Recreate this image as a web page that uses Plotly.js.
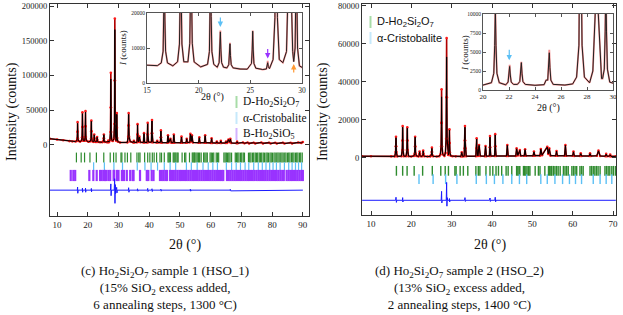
<!DOCTYPE html>
<html><head><meta charset="utf-8">
<script src="https://cdn.plot.ly/plotly-3.0.1.min.js"></script>
<style>html,body{margin:0;padding:0;background:#fff}#plot{width:623px;height:315px}</style>
</head><body><div id="plot"></div>
<script>
// ---------- Sample 1 (HSO_1) ----------
const obsX1 = [7.7,10,12,14,15,16.0,16.38,16.56,16.63,16.68,16.73,16.80,16.98,17.5,17.96,18.14,18.21,18.26,18.31,18.38,18.56,18.96,19.14,19.21,19.26,19.31,19.38,19.56,20.2,20.86,21.04,21.11,21.16,21.21,21.28,21.46,21.80,21.98,22.05,22.10,22.15,22.22,22.40,22.73,22.91,22.98,23.03,23.08,23.15,23.33,24.0,24.7,24.93,25.11,25.18,25.23,25.28,25.35,25.53,26.2,26.55,26.62,26.68,26.74,26.85,27.2,27.38,27.45,27.5,27.55,27.62,27.8,28.15,28.5,28.68,28.75,28.8,28.85,28.92,29.1,29.2,29.33,29.4,29.45,29.5,29.57,29.75,30.5,32.9,33.15,33.25,33.3,33.35,33.45,33.8,34.8,35.0,35.2,36.0,36.15,36.2,36.25,36.5,36.8,37.1,38.1,38.3,38.5,39.3,39.45,39.5,39.55,39.8,40.7,40.85,40.9,40.95,41.2,42.4,42.6,42.8,43.6,43.75,43.8,43.85,44.1,45.9,46.1,46.3,46.9,47.2,47.8,48.0,48.2,50.3,50.5,50.7,52.0,52.2,52.4,53.2,53.4,53.65,53.9,54.2,56.1,56.3,56.5,58.0,58.2,58.4,60.1,60.3,60.5,61.8,62.0,62.2,63.1,63.3,63.5,64.8,65.0,65.3,65.8,66.1,66.4,66.7,68.4,68.6,68.8,70.5,71,72,72.5,74,74.5,76.5,77,79,79.5,81,81.5,83.5,84,86,86.5,88.5,89.5,90];
const obsY1 = [9000,8000,6800,5600,5100,4950,5740,9100,18950,33000,18950,9100,5740,4900,6070,11130,25900,47000,25900,11130,6070,6030,11350,26850,49000,26850,11350,6030,4600,5320,8990,19700,35000,19700,8990,5320,4520,5820,9600,15000,9600,5820,4520,4320,5210,7800,11500,7800,5210,4320,4000,3950,5000,5570,9450,15000,9450,5570,4230,3850,4000,4700,6300,4700,4100,6700,18700,53800,104000,53800,18700,6700,5800,9000,30300,92800,182000,92800,30300,9000,6100,10000,24800,46000,24800,10000,4900,3600,3800,12000,28000,46000,28000,12000,5000,3600,6000,3600,3800,15000,30000,15000,4500,12000,4000,3600,17000,3500,3600,15000,32000,15000,4000,4000,17000,36000,17000,3800,3500,6000,3500,3500,11000,21000,11000,3400,3300,14000,3500,9000,3300,3300,15000,3400,3200,12000,3200,3300,9000,3500,3800,16000,5000,14000,3600,3200,11000,3200,3300,14000,3300,3000,9600,3000,2800,5000,2800,2800,6200,2800,2800,5000,2900,8000,4000,9000,2800,2600,4800,2600,3500,2400,3500,2300,3300,2300,3500,2300,3300,2200,3200,2200,3300,2200,3200,2300,3500,3000,4300];
const calcY1 = [9000,8000,6800,5600,5100,4950,5740,9100,18000,31000,18000,9100,5740,4900,6070,11130,24800,45000,24800,11130,6070,6030,11350,25800,47000,25800,11350,6030,4600,5320,8990,19000,34000,19000,8990,5320,4520,5820,9600,14600,9600,5820,4520,4320,5210,7800,11200,7800,5210,4320,4000,3950,5000,5570,9450,14800,9450,5570,4230,3850,4000,4700,5800,4700,4100,6700,18700,50000,95000,50000,18700,6700,5800,9000,30300,85000,166000,85000,30300,9000,6100,10000,24800,44000,24800,10000,4900,3600,3800,12000,27000,44000,27000,12000,5000,3600,6000,3600,3800,15000,29000,15000,4500,11500,4000,3600,16500,3500,3600,15000,30500,15000,4000,4000,17000,34500,17000,3800,3500,6000,3500,3500,11000,20000,11000,3400,3300,13500,3500,9000,3300,3300,14500,3400,3200,11500,3200,3300,9000,3500,3800,15500,5000,13500,3600,3200,10500,3200,3300,13500,3300,3000,9300,3000,2800,5000,2800,2800,6000,2800,2800,5000,2900,7800,4000,8700,2800,2600,4800,2600,3500,2400,3500,2300,3300,2300,3500,2300,3300,2200,3200,2200,3300,2200,3200,2300,3500,3000,4300];
const diffX1 = [7.7,16.6,16.68,16.75,16.85,18.2,18.26,18.32,18.4,19.2,19.26,19.32,19.4,21.1,21.16,21.22,21.3,27.4,27.5,27.58,27.7,28.6,28.75,28.85,28.95,29.05,29.2,29.4,29.5,29.6,33.2,33.3,33.4,33.5,36.1,36.2,36.3,36.4,39.4,39.5,39.6,39.7,40.8,40.9,41.0,41.1,43.7,43.8,43.9,44.0,53.3,53.4,53.5,53.6,66.3,66.4,66.5,90];
const diffY1 = [-65000,-65000,-60500,-69500,-65000,-65000,-62000,-68000,-65000,-65000,-62000,-68000,-65000,-65000,-62500,-67500,-65000,-65000,-56000,-73000,-65000,-65000,-48500,-84000,-57000,-70000,-65000,-61000,-69000,-65000,-65000,-61500,-68000,-65000,-65000,-63000,-66500,-65000,-65000,-62500,-67000,-65000,-65000,-63000,-67000,-65000,-65000,-63500,-66500,-65000,-65000,-63500,-66500,-65000,-65000,-63800,-66000,-65000];

// ---------- Sample 2 (HSO_2) ----------
const obsX2 = [7.8,10,15,15.9,16.1,16.15,16.2,16.25,16.3,16.5,17.55,17.75,17.8,17.85,17.9,17.95,18.15,18.7,18.9,18.95,19.0,19.05,19.1,19.3,20.0,20.65,20.83,20.9,20.95,21.0,21.07,21.25,21.75,21.93,22.0,22.05,22.1,22.17,22.35,22.65,22.83,22.9,22.95,23.0,23.07,23.25,24.0,24.7,24.85,24.98,25.05,25.1,25.15,25.22,25.4,26.3,26.9,27.2,27.38,27.45,27.5,27.55,27.62,27.8,28.2,28.45,28.63,28.7,28.75,28.8,28.87,29.05,29.12,29.2,29.33,29.4,29.45,29.5,29.57,29.75,30.2,31.0,32.3,32.5,32.7,33.1,33.2,33.25,33.3,33.35,33.4,33.6,36.0,36.15,36.2,36.25,36.5,36.8,37.1,38.2,38.4,38.6,39.35,39.45,39.5,39.55,39.7,40.65,40.75,40.8,40.85,41.0,43.6,43.8,44.0,45.9,46.1,46.4,46.9,47.1,48.0,48.2,48.4,50.2,50.4,50.6,51.9,52.1,52.4,53.7,53.95,54.2,54.5,55.8,56.0,56.2,58.0,58.2,58.4,60.0,60.2,60.4,61.8,62.0,62.2,64.1,64.3,64.5,66.0,66.4,66.8,68.1,68.3,68.5,69.1,69.3,69.5,70.7];
const obsY2 = [800,750,700,700,3000,6000,11000,6000,3000,700,800,4000,9000,16700,9000,4000,800,800,4000,9000,16000,9000,4000,800,650,960,2200,5850,11000,5850,2200,960,680,1050,1975,3300,1975,1050,730,740,1110,2180,3700,2180,1110,740,620,700,1300,1300,2950,5300,2950,1300,740,650,800,1700,5900,18300,36000,18300,5900,1700,950,2500,10000,31800,63000,31800,10000,2500,1500,1500,2750,7750,14900,7750,2750,1030,800,700,700,2800,700,800,5000,9000,16700,9000,5000,800,800,5000,10200,5000,900,6700,900,800,6100,800,900,5500,11400,5500,900,900,6000,12400,6000,900,900,6700,900,900,4900,1200,4000,1000,1000,4400,1000,1000,3200,1100,1100,4600,1300,5800,2000,4900,1100,1000,3500,1000,1000,6700,1000,1000,3200,900,900,2300,900,900,2300,900,1000,3700,900,800,2000,800,800,1600,700,700];
const calcY2 = [800,750,700,700,3000,5800,10500,5800,3000,700,800,4000,8800,16000,8800,4000,800,800,4000,8800,15500,8800,4000,800,650,960,2200,5850,10800,5850,2200,960,680,1050,1975,3100,1975,1050,730,740,1110,2180,3600,2180,1110,740,620,700,1300,1300,2950,4900,2950,1300,740,650,800,1700,5900,16500,32000,16500,5900,1700,950,2500,10000,27000,53000,27000,10000,2500,1500,1500,2750,7750,14500,7750,2750,1030,800,700,700,2800,700,800,5000,8800,16000,8800,5000,800,800,5000,9800,5000,900,6500,900,800,5900,800,900,5300,10800,5300,900,900,5800,12000,5800,900,900,6500,900,900,4700,1200,3900,1000,1000,4300,1000,1000,3100,1100,1100,4500,1300,5600,2000,4800,1100,1000,3400,1000,1000,6500,1000,1000,3100,900,900,2200,900,900,2200,900,1000,3600,900,800,1900,800,800,1500,700,700];
const diffX2 = [7.8,16.1,16.2,16.3,16.4,17.8,17.85,17.9,18.0,27.4,27.5,27.56,27.65,28.65,28.75,28.82,28.9,29.0,29.4,29.45,29.5,29.6,33.2,33.3,33.4,33.5,39.4,39.5,39.6,39.7,40.7,40.8,40.9,41.0,70.7];
const diffY2 = [-22400,-22400,-20800,-23500,-22400,-22400,-21000,-23300,-22400,-22400,-17700,-23800,-22400,-22400,-13000,-25500,-21000,-22400,-22400,-21500,-23300,-22400,-22400,-21000,-23000,-22400,-22400,-21200,-23000,-22400,-22400,-20800,-23200,-22400,-22400];

// ---------- Reflection positions ----------
const ticksD = [16.3,17.85,18.95,20.7,22.8,25.2,27.3,28.4,29.2,30.8,31.1,32.1,32.9,34.0,36.0,36.6,37.0,38.5,39.5,40.2,41.0,41.6,42.4,43.5,44.0,44.9,46.1,46.4,46.7,46.9,47.8,48.1,48.4,48.7,49.1,49.4,50.7,51.5,51.9,53.1,54.0,54.3,54.6,54.8,55.2,55.6,56.0,56.4,56.9,57.7,58.1,58.5,58.9,59.8,60.2,60.6,61.0,61.8,62.2,62.6,64.3,64.7,65.1,65.5,65.9,66.3,66.8,68.0,68.4,68.8,69.2,69.7,70.1,70.6,71.0,72.3,72.7,73.1,73.6,74.0,74.5,74.9,75.3,75.8,76.2,76.6,77.1,77.5,78.0,78.4,78.8,79.3,79.7,80.1,80.6,81.0,81.5,81.9,82.3,82.8,83.2,83.6,84.1,84.5,85.0,85.4,85.8,86.3,86.7,87.1,87.6,88.0,88.4,88.9,89.3,89.8];
const ticksCrist = [21.9,25.4,28.5,31.3,36.1,38.6,40.6,42.7,44.9,46.8,48.6,52.1,53.7,55.6,57.5,59.2,60.7,62.2,65.1,66.8,68.3,69.7,71.2,72.4,74.0,75.5,76.8,78.0,79.2,80.3,81.4,82.6,84.0,85.4,86.5,87.6,88.6,89.6];
const ticksB = [14.45,15.3,15.9,20.5,21.8,22.9,24.0,24.5,25.1,25.6,26.0,26.7,27.3,28.4,28.6,29.5,30.0,31.1,31.8,32.7,33.8,34.6,34.9,37.0,39.2,39.7,40.8,41.4,43.5,44.1,44.7,45.3,45.8,46.8,47.4,48.0,48.6,49.2,49.8,50.3,51.0,51.6,52.2,52.8,53.4,54.0,54.6,55.2,55.8,56.4,57.0,57.6,58.2,58.8,59.4,60.0,60.6,61.2,61.8,62.4,63.0,63.6,64.1,65.3,65.9,66.5,67.1,67.7,68.3,68.9,69.5,70.1,70.7,71.3,71.9,72.5,73.1,73.7,74.3,74.9,75.5,76.1,76.7,77.3,77.9,78.5,79.1,79.7,80.3,80.9,81.5,82.1,82.7,83.3,83.8,84.7,85.3,85.9,86.5,87.1,87.7,88.3,88.9,89.5,90.0];

const phaseNames1 = ['D-Ho<sub>2</sub>Si<sub>2</sub>O<sub>7</sub>','α-Cristobalite','B-Ho<sub>2</sub>SiO<sub>5</sub>'];
const caption1 = ['(c) Ho<sub>2</sub>Si<sub>2</sub>O<sub>7</sub> sample 1 (HSO_1)', '(15% SiO<sub>2</sub> excess added,', '6 annealing steps, 1300 °C)'];
const caption2 = ['(d) Ho<sub>2</sub>Si<sub>2</sub>O<sub>7</sub> sample 2 (HSO_2)', '(13% SiO<sub>2</sub> excess added,', '2 annealing steps, 1400 °C)'];

// ---------- Drawing ----------
const SERIF = 'Liberation Serif';
const SANS = 'Liberation Sans';
const W = 623, H = 315;
const PX = p => p / W, PY = p => 1 - p / H;
const cRed = '#ff1a1a', cGreen = '#2e8b2e', cCyan = '#5cc0f5', cPurple = '#9933ff';

function obsTrace(x, y, xa, ya, main) {
  return {x, y, xaxis: xa, yaxis: ya, type: 'scatter', mode: main ? 'lines+markers' : 'lines',
    line: {color: main ? '#b00000' : '#f08a8a', width: main ? 1.6 : 1.8},
    marker: {color: cRed, size: 2.6}, hoverinfo: 'skip'};
}
function calcTrace(x, y, xa, ya, main) {
  return {x, y, xaxis: xa, yaxis: ya, type: 'scatter', mode: 'lines',
    line: {color: main ? '#000' : '#222', width: 1}, hoverinfo: 'skip'};
}
function tickTrace(pos, yv, xa, ya, color, size, w) {
  return {x: pos, y: pos.map(() => yv), xaxis: xa, yaxis: ya, type: 'scatter', mode: 'markers',
    marker: {symbol: 'line-ns', size: size, color: color, line: {color: color, width: w}}, hoverinfo: 'skip'};
}
function diffTrace(x, y, xa, ya) {
  return {x, y, xaxis: xa, yaxis: ya, type: 'scatter', mode: 'lines',
    line: {color: '#1a1aff', width: 1}, hoverinfo: 'skip'};
}

const data = [
  obsTrace(obsX1, obsY1, 'x', 'y', true), calcTrace(obsX1, calcY1, 'x', 'y', true),
  tickTrace(ticksD, -18000, 'x', 'y', cGreen, 7, 1.2),
  tickTrace(ticksCrist, -30800, 'x', 'y', cCyan, 6, 1.2),
  tickTrace(ticksB, -43900, 'x', 'y', cPurple, 8, 2.2),
  diffTrace(diffX1, diffY1, 'x', 'y'),
  obsTrace(obsX1, obsY1, 'x3', 'y3', false), calcTrace(obsX1, calcY1, 'x3', 'y3', false),

  obsTrace(obsX2, obsY2, 'x2', 'y2', true), calcTrace(obsX2, calcY2, 'x2', 'y2', true),
  tickTrace(ticksD, -6900, 'x2', 'y2', cGreen, 7, 1.4),
  tickTrace(ticksCrist, -11300, 'x2', 'y2', cCyan, 7, 1.4),
  diffTrace(diffX2, diffY2, 'x2', 'y2'),
  obsTrace(obsX2, obsY2, 'x4', 'y4', false), calcTrace(obsX2, calcY2, 'x4', 'y4', false)
];

function ax(extra, fs) {
  return Object.assign({showline: true, linecolor: '#333', linewidth: 1, mirror: 'ticks', ticks: 'inside',
    ticklen: 4, tickwidth: 1, tickcolor: '#333', showgrid: false, zeroline: false, fixedrange: true,
    tickfont: {family: SERIF, size: fs, color: '#222'}, tickformat: 'd'}, extra);
}

const layout = {
  width: W, height: H, margin: {l: 0, r: 0, t: 0, b: 0},
  font: {family: SERIF},
  paper_bgcolor: '#fff', plot_bgcolor: 'rgba(0,0,0,0)', showlegend: false,
  xaxis: ax({domain: [PX(50), PX(309)], range: [7.7, 92], anchor: 'y', tickvals: [10,20,30,40,50,60,70,80,90]}, 9),
  yaxis: ax({domain: [PY(216), PY(4)], range: [-102200, 202900], anchor: 'x', tickvals: [0,50000,100000,150000,200000]}, 8.5),
  xaxis2: ax({domain: [PX(362), PX(616)], range: [7.77, 70.74], anchor: 'y2', tickvals: [10,20,30,40,50,60,70]}, 9),
  yaxis2: ax({domain: [PY(215), PY(4)], range: [-30140, 80850], anchor: 'x2', tickvals: [0,20000,40000,60000,80000]}, 8.5),
  xaxis3: ax({domain: [PX(147), PX(302)], range: [15, 30], anchor: 'y3', tickvals: [15,20,25,30], ticklen: 3, linecolor: '#555', tickcolor: '#555'}, 7.5),
  yaxis3: ax({domain: [PY(83), PY(13)], range: [0, 20000], anchor: 'x3', tickvals: [0,10000,20000], ticklen: 3, linecolor: '#555', tickcolor: '#555'}, 5.5),
  xaxis4: ax({domain: [PX(483), PX(613)], range: [20, 30], anchor: 'y4', tickvals: [20,22,24,26,28,30], ticklen: 3, linecolor: '#555', tickcolor: '#555'}, 7),
  yaxis4: ax({domain: [PY(90), PY(14)], range: [0, 10000], anchor: 'x4', tickvals: [0,2500,5000,7500,10000], ticklen: 3, linecolor: '#555', tickcolor: '#555'}, 5.5),
  shapes: [], annotations: []
};

const A = layout.annotations, Sh = layout.shapes;
function txt(text, x, y, size, opts) {
  A.push(Object.assign({text, x: PX(x), y: PY(y), xref: 'paper', yref: 'paper', showarrow: false,
    font: {family: SERIF, size, color: '#111'}, xanchor: 'center', yanchor: 'middle'}, opts || {}));
}
// axis titles
txt('Intensity (counts)', 12, 112, 14, {textangle: -90});
txt('Intensity (counts)', 323, 112, 14, {textangle: -90});
txt('2θ (°)', 185, 245, 14);
txt('2θ (°)', 490, 245, 14);
txt('2θ (°)', 212, 97, 10);
txt('2θ (°)', 548, 108, 10);
txt('<i>I</i> (counts)', 123, 48, 9, {textangle: -90});
txt('<i>I</i> (counts)', 465, 53, 9, {textangle: -90});
// captions (one block each)
txt(caption1.join('<br>'), 165, 287, 13);
txt(caption2.join('<br>'), 460, 287, 13);
// legends
const pale = ['#a8dca8', '#c6e9fb', '#d2b3ff'];
[102, 118, 134].forEach((yy, i) => {
  Sh.push({type: 'rect', xref: 'paper', yref: 'paper', x0: PX(235.5), x1: PX(237.5), y0: PY(yy + 6), y1: PY(yy - 6), fillcolor: pale[i], line: {width: 0}});
  txt(phaseNames1[i], 241, yy, 11.5, {xanchor: 'left'});
});
[22, 38].forEach((yy, i) => {
  Sh.push({type: 'rect', xref: 'paper', yref: 'paper', x0: PX(369.5), x1: PX(371.5), y0: PY(yy + 6), y1: PY(yy - 6), fillcolor: pale[i], line: {width: 0}});
  txt(phaseNames1[i], 375, yy, 11, {xanchor: 'left', font: {family: SANS, size: 11, color: '#111'}});
});
// arrows in insets
function arrow(xa, ya, x, y, ayOff, color) {
  A.push({xref: xa, yref: ya, x, y, ax: 0, ay: ayOff, text: '', showarrow: true, arrowhead: 2,
    arrowsize: 0.9, arrowwidth: 1.2, arrowcolor: color, standoff: 0});
}
arrow('x3', 'y3', 22.1, 16000, -11, cCyan);
arrow('x3', 'y3', 26.68, 7000, -11, cPurple);
arrow('x3', 'y3', 29.2, 5400, 10, '#ff9933');
arrow('x4', 'y4', 22.02, 3900, -12, cCyan);

Plotly.newPlot('plot', data, layout, {displayModeBar: false, staticPlot: true});
</script>
</body></html>
